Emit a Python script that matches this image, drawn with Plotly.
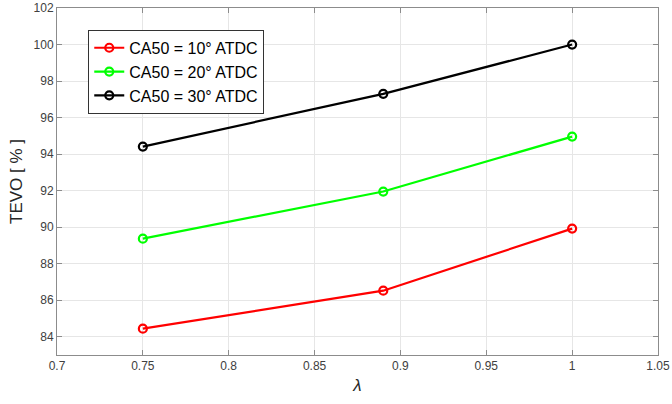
import plotly.graph_objects as go

lam = [0.75, 0.89, 1.0]
tevo_10 = [84.44, 86.52, 89.92]
tevo_20 = [89.37, 91.95, 94.96]
tevo_30 = [94.41, 97.30, 100.0]
names = ["CA50 = 10° ATDC", "CA50 = 20° ATDC", "CA50 = 30° ATDC"]
colors = ["#ff0000", "#00ff00", "#000000"]
x_ticks = [0.7, 0.75, 0.8, 0.85, 0.9, 0.95, 1.0, 1.05]
x_tick_text = ["0.7", "0.75", "0.8", "0.85", "0.9", "0.95", "1", "1.05"]
y_ticks = [84, 86, 88, 90, 92, 94, 96, 98, 100, 102]

fig = go.Figure()
for y, n, c in zip([tevo_10, tevo_20, tevo_30], names, colors):
    fig.add_trace(go.Scatter(
        x=lam, y=y, name=n, mode="lines+markers",
        line=dict(color=c, width=2.2),
        marker=dict(symbol="circle-open", size=8, color=c, line=dict(width=2.2, color=c)),
    ))

axis_common = dict(
    showgrid=True, gridcolor="#e6e6e6", gridwidth=1,
    showline=True, linecolor="#8c8c8c", linewidth=1, mirror="ticks",
    ticks="inside", ticklen=5, tickcolor="#8c8c8c",
    tickfont=dict(family="Liberation Sans, Arial", size=12, color="#404040"),
    zeroline=False, automargin=False,
)

fig.update_layout(
    width=672, height=404,
    margin=dict(l=57, r=14, t=8, b=49),
    paper_bgcolor="white", plot_bgcolor="white",
    font=dict(family="Liberation Sans, Arial", color="#262626"),
    xaxis=dict(range=[0.7, 1.05], tickvals=x_ticks, ticktext=x_tick_text,
               title=dict(text="<i>λ</i>", font=dict(size=17, color="#262626"), standoff=6),
               **axis_common),
    yaxis=dict(range=[83, 102], tickvals=y_ticks,
               title=dict(text="TEVO [ % ]", font=dict(size=17, color="#262626"), standoff=6),
               **axis_common),
    legend=dict(x=0.052, y=0.937, xanchor="left", yanchor="top",
                bgcolor="white", bordercolor="#333333", borderwidth=1,
                font=dict(size=16, color="#000000"),
                itemwidth=30, tracegroupgap=0),
    showlegend=True,
)

fig.write_html("out.html", config={"displayModeBar": False},
               post_script="document.body.style.margin='0';document.body.style.padding='0';")
